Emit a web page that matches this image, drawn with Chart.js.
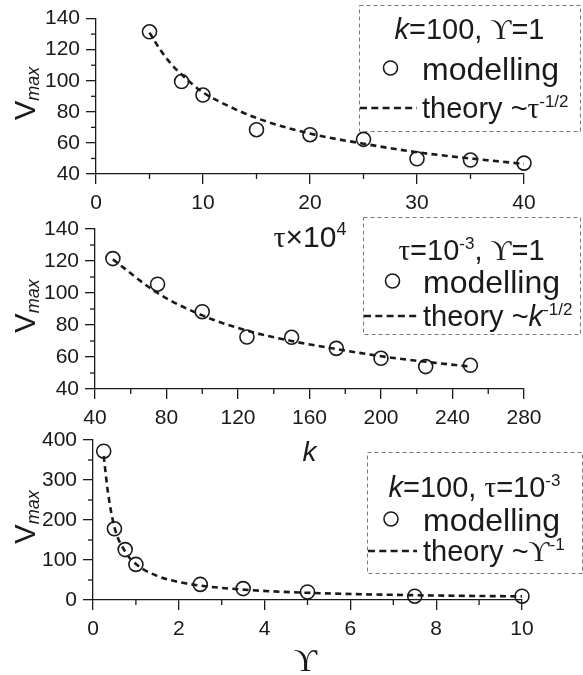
<!DOCTYPE html>
<html><head><meta charset="utf-8">
<script src="https://cdn.jsdelivr.net/npm/chart.js@4.4.0/dist/chart.umd.min.js"></script>
<style>
html,body{margin:0;padding:0;background:#fff;}
#wrap{position:relative;width:583px;height:675px;overflow:hidden;background:#fff;}
canvas{position:absolute;left:0;top:0;}
</style></head><body>
<div id="wrap">
<canvas id="c1" width="583" height="675"></canvas>
<canvas id="c2" width="583" height="675"></canvas>
<canvas id="c3" width="583" height="675"></canvas>
</div>
<script>
// ---------- data ----------
const tauVals   = [5, 8, 10, 15, 20, 25, 30, 35, 40];
const vTau      = [131.5, 99.5, 90.8, 68.5, 65.3, 62.3, 49.8, 49, 47];
const tauTheoryX = [5, 6, 7, 8, 10, 12, 15, 20, 25, 30, 35, 40];
const tauTheoryY = [131, 120, 111, 104, 92.5, 85, 76, 66, 59.5, 54, 50, 46.5];

const kVals     = [50, 75, 100, 125, 150, 175, 200, 225, 250];
const vK        = [121.5, 105.5, 88.3, 72.5, 72.3, 65.4, 59.2, 54, 54.8];
const kTheoryX  = [50, 75, 100, 125, 150, 175, 200, 225, 250];
const kTheoryY  = [121, 100, 86, 76.5, 70, 65, 60.5, 57, 54];

const upsVals   = [0.25, 0.5, 0.75, 1, 2.5, 3.5, 5, 7.5, 10];
const vUps      = [372, 178, 126, 89, 39, 28.5, 20, 9.5, 9.5];
const upsTheoryX = [0.25, 0.35, 0.5, 0.75, 1, 1.5, 2, 2.5, 3.5, 5, 7.5, 10];
const upsTheoryY = [360, 268, 182, 121, 90, 60, 45, 36, 26, 18, 12, 9];

const tauTicks = [0, 40, 10];   // min, max, step
const kTicks   = [40, 280, 40];
const upsTicks = [0, 10, 2];
const v1Ticks  = [40, 140, 20];
const v2Ticks  = [40, 140, 20];
const v3Ticks  = [0, 400, 100];

// ---------- helpers ----------
const SANS = '"Liberation Sans", Arial, sans-serif';
const SERIF = '"Liberation Serif", "DejaVu Serif", serif';
const F = (size, style, fam) => (style ? style + ' ' : '') + size + 'px ' + fam;
const INK = '#1a1a1a';

function pts(xs, ys){ return xs.map((x,i)=>({x:x, y:ys[i]})); }
function runsWidth(ctx, runs){ let w=0; for(const r of runs){ ctx.font=r.f; w+=ctx.measureText(r.t).width; } return w; }
function drawRuns(ctx, runs, x, y){
  for(const r of runs){ ctx.font=r.f; ctx.fillText(r.t, x, y+(r.dy||0)); x+=ctx.measureText(r.t).width; }
}

const overlayPlugin = {
  id: 'overlay',
  afterDraw(chart, args, o){
    const ctx = chart.ctx;
    const ca = chart.chartArea;
    ctx.save();
    ctx.fillStyle = INK; ctx.strokeStyle = INK; ctx.textBaseline = 'alphabetic';
    // minor ticks
    ctx.lineWidth = 1.3; ctx.setLineDash([]);
    ['x','y'].forEach(id=>{
      const s = chart.scales[id]; const t = s.ticks;
      for(let i=0;i<t.length-1;i++){
        const p = s.getPixelForValue((t[i].value+t[i+1].value)/2);
        ctx.beginPath();
        if(id==='x'){ ctx.moveTo(p, ca.bottom); ctx.lineTo(p, ca.bottom+5); }
        else { ctx.moveTo(ca.left, p); ctx.lineTo(ca.left-5, p); }
        ctx.stroke();
      }
    });
    // y title
    const yt = o.yTitle;
    ctx.save();
    ctx.translate(yt.x, (ca.top+ca.bottom)/2 + yt.dy);
    ctx.rotate(-Math.PI/2);
    drawRuns(ctx, yt.runs, -runsWidth(ctx, yt.runs)/2, 0);
    ctx.restore();
    // x title
    const xt = o.xTitle;
    drawRuns(ctx, xt.runs, (ca.left+ca.right)/2 + (xt.dx||0) - runsWidth(ctx, xt.runs)/2, xt.y);
    // legend box
    const L = o.legend;
    ctx.save();
    ctx.strokeStyle = '#7a7a7a'; ctx.lineWidth = 1; ctx.setLineDash([4,3]);
    ctx.strokeRect(L.x+0.5, L.y+0.5, L.w, L.h);
    ctx.restore();
    drawRuns(ctx, L.title, L.x + L.w/2 - runsWidth(ctx, L.title)/2, L.titleY);
    // marker line
    ctx.lineWidth = 1.6; ctx.setLineDash([]);
    ctx.beginPath(); ctx.arc(L.markX, L.markY, 7, 0, Math.PI*2); ctx.stroke();
    drawRuns(ctx, [{t:'modelling', f:F(L.mfs,'',SANS)}], L.textX, L.markY + L.mfs*0.36);
    // theory line
    ctx.lineWidth = 2.6; ctx.setLineDash([7,4.3]);
    ctx.beginPath(); ctx.moveTo(L.lineX0, L.lineY); ctx.lineTo(L.lineX1, L.lineY); ctx.stroke();
    ctx.setLineDash([]);
    drawRuns(ctx, L.theory, L.textX, L.lineY + L.fs*0.36);
    ctx.restore();
  }
};

function makeChart(id, cfg){
  const ca = cfg.area;
  const tickFont = {family: '"Liberation Sans", Arial, sans-serif', size: 21};
  const axisCommon = {
    type: 'linear',
    grid: {display: true, drawOnChartArea: false, drawTicks: true, tickLength: 10, color: INK, lineWidth: 1.3},
    border: {display: true, color: INK, width: 1.3},
  };
  return new Chart(document.getElementById(id), {
    type: 'scatter',
    data: {
      datasets: [
        { label: 'theory', data: pts(cfg.tx, cfg.ty), showLine: true, pointRadius: 0, clip: false,
          borderColor: INK, borderWidth: 2.6, borderDash: [6, 4.3], cubicInterpolationMode: 'monotone', fill: false },
        { label: 'modelling', data: pts(cfg.mx, cfg.my), showLine: false, pointStyle: 'circle', pointRadius: 7, clip: false,
          borderColor: INK, backgroundColor: 'rgba(0,0,0,0)', pointBorderWidth: 1.6, borderWidth: 1.6 }
      ]
    },
    options: {
      responsive: false, animation: false, devicePixelRatio: 1, events: [],
      layout: {padding: {left: 0, top: ca.top, right: 583 - ca.right, bottom: 675 - ca.bottom - 40}},
      plugins: {legend: {display: false}, tooltip: {enabled: false}, overlay: cfg.overlay},
      scales: {
        x: Object.assign({}, axisCommon, {
          min: cfg.xt[0], max: cfg.xt[1],
          ticks: {stepSize: cfg.xt[2], color: INK, font: tickFont, padding: 7, maxRotation: 0, autoSkip: false},
          afterFit: s => { s.height = 40; }
        }),
        y: Object.assign({}, axisCommon, {
          min: cfg.yt[0], max: cfg.yt[1],
          ticks: {stepSize: cfg.yt[2], color: INK, font: tickFont, padding: 6, autoSkip: false},
          afterFit: s => { s.width = ca.left; }
        })
      }
    },
    plugins: [overlayPlugin]
  });
}

const yTitleRuns = [{t:'V', f:F(29,'',SANS)}, {t:'max', f:F(18,'italic',SANS), dy:4}];
const LFS = 29, MFS = 32;

makeChart('c1', {
  area: {left: 96, right: 524, top: 14, bottom: 174},
  mx: tauVals, my: vTau, tx: tauTheoryX, ty: tauTheoryY, xt: tauTicks, yt: v1Ticks,
  overlay: {
    yTitle: {x: 35, dy: -3, runs: yTitleRuns},
    xTitle: {y: 247, runs: [{t:'τ', f:F(30,'',SERIF)}, {t:'×', f:F(30,'',SANS)}, {t:'10', f:F(30,'',SANS)}, {t:'4', f:F(18,'',SANS), dy:-12}]},
    legend: {x: 359, y: 5, w: 221, h: 126, fs: LFS, mfs: MFS, titleY: 39, markX: 390.5, markY: 68, textX: 422,
      lineX0: 360, lineX1: 417, lineY: 108,
      title: [{t:'k', f:F(LFS,'italic',SANS)}, {t:'=100, ', f:F(LFS,'',SANS)}, {t:'ϒ', f:F(LFS,'',SERIF)}, {t:'=1', f:F(LFS,'',SANS)}],
      theory: [{t:'theory ~', f:F(LFS,'',SANS)}, {t:'τ', f:F(LFS,'',SERIF)}, {t:'-1/2', f:F(17,'',SANS), dy:-11}]}
  }
});

makeChart('c2', {
  area: {left: 95, right: 524, top: 229, bottom: 389},
  mx: kVals, my: vK, tx: kTheoryX, ty: kTheoryY, xt: kTicks, yt: v2Ticks,
  overlay: {
    yTitle: {x: 35, dy: -3, runs: yTitleRuns},
    xTitle: {y: 461, runs: [{t:'k', f:F(28,'italic',SANS)}]},
    legend: {x: 363, y: 217, w: 217, h: 117, fs: LFS, mfs: MFS, titleY: 260, markX: 392.5, markY: 281, textX: 423,
      lineX0: 364, lineX1: 417, lineY: 316,
      title: [{t:'τ', f:F(LFS,'',SERIF)}, {t:'=10', f:F(LFS,'',SANS)}, {t:'-3', f:F(17,'',SANS), dy:-11}, {t:', ', f:F(LFS,'',SANS)}, {t:'ϒ', f:F(LFS,'',SERIF)}, {t:'=1', f:F(LFS,'',SANS)}],
      theory: [{t:'theory ~', f:F(LFS,'',SANS)}, {t:'k', f:F(LFS,'italic',SANS)}, {t:'-1/2', f:F(17,'',SANS), dy:-11}]}
  }
});

makeChart('c3', {
  area: {left: 93, right: 522, top: 440, bottom: 600},
  mx: upsVals, my: vUps, tx: upsTheoryX, ty: upsTheoryY, xt: upsTicks, yt: v3Ticks,
  overlay: {
    yTitle: {x: 35, dy: -3, runs: yTitleRuns},
    xTitle: {y: 671, dx: -2, runs: [{t:'ϒ', f:F(32,'',SERIF)}]},
    legend: {x: 367, y: 452, w: 215, h: 121, fs: LFS, mfs: MFS, titleY: 497, markX: 391, markY: 519, textX: 423,
      lineX0: 368, lineX1: 417, lineY: 551,
      title: [{t:'k', f:F(LFS,'italic',SANS)}, {t:'=100, ', f:F(LFS,'',SANS)}, {t:'τ', f:F(LFS,'',SERIF)}, {t:'=10', f:F(LFS,'',SANS)}, {t:'-3', f:F(17,'',SANS), dy:-11}],
      theory: [{t:'theory ~', f:F(LFS,'',SANS)}, {t:'ϒ', f:F(LFS,'',SERIF)}, {t:'-1', f:F(17,'',SANS), dy:-11}]}
  }
});
</script>
</body></html>
